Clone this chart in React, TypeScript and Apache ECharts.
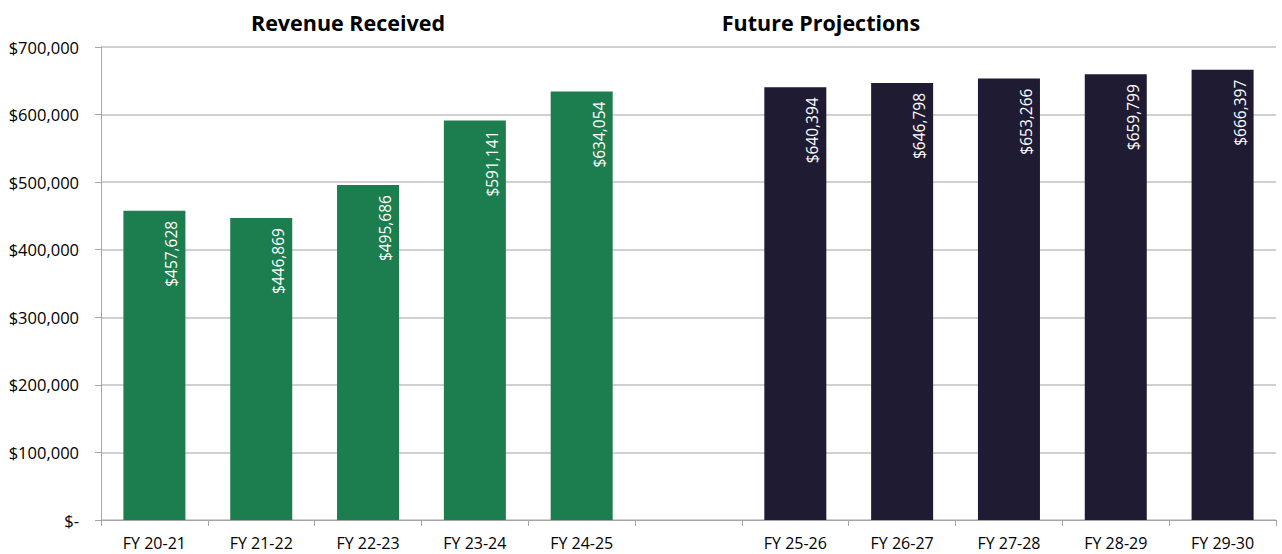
import React, { useEffect, useRef } from "react";
import * as echarts from "echarts";

const categories = ["FY 20-21", "FY 21-22", "FY 22-23", "FY 23-24", "FY 24-25", "", "FY 25-26", "FY 26-27", "FY 27-28", "FY 28-29", "FY 29-30"];
const received = [457628, 446869, 495686, 591141, 634054, null, null, null, null, null, null];
const projected = [null, null, null, null, null, null, 640394, 646798, 653266, 659799, 666397];
const yTicks = [0, 100000, 200000, 300000, 400000, 500000, 600000, 700000];
const titles = ["Revenue Received", "Future Projections"];

const FONT = "'Open Sans', 'Liberation Sans', sans-serif";
const fmt = (v: number) => "$" + v.toLocaleString("en-US");

export default function App() {
  const ref = useRef<HTMLDivElement>(null);
  useEffect(() => {
    const chart = echarts.init(ref.current!, null, { renderer: "svg" });
    const labelCfg = {
      show: true,
      position: "insideTop" as const,
      rotate: 90,
      align: "right" as const,
      verticalAlign: "middle" as const,
      distance: 10,
      offset: [0, 17],
      overflow: "none" as const,
      color: "#ffffff",
      fontFamily: FONT,
      fontSize: 15.5,
      formatter: (p: any) => fmt(p.value),
    };
    chart.setOption({
      animation: false,
      title: [
        { text: titles[0], left: 343, top: 6, textAlign: "center", textStyle: { fontFamily: FONT, fontSize: 21.5, fontWeight: "bold", color: "#000" } },
        { text: titles[1], left: 816, top: 6, textAlign: "center", textStyle: { fontFamily: FONT, fontSize: 21.5, fontWeight: "bold", color: "#000" } },
      ],
      grid: { left: 101, right: 6, top: 47, bottom: 34, containLabel: false },
      xAxis: {
        type: "category",
        data: categories,
        axisLine: { lineStyle: { color: "#a6a6a6" } },
        axisTick: { show: true, length: 6, lineStyle: { color: "#a6a6a6" } },
        axisLabel: { color: "#000", fontFamily: FONT, fontSize: 16, margin: 15 },
      },
      yAxis: {
        type: "value",
        min: yTicks[0],
        max: yTicks[yTicks.length - 1],
        interval: 100000,
        axisLine: { show: true, lineStyle: { color: "#a6a6a6" } },
        axisTick: { show: true, length: 6, inside: false, lineStyle: { color: "#a6a6a6" } },
        splitLine: { lineStyle: { color: "#c0c0c0", width: 1.5 } },
        axisLabel: {
          color: "#000",
          fontFamily: FONT,
          fontSize: 16.5,
          margin: 22,
          formatter: (v: number) => (v === 0 ? "$-" : fmt(v)),
        },
      },
      series: [
        {
          type: "bar",
          data: received,
          barWidth: 62,
          barGap: "-100%",
          itemStyle: { color: "#1c7d4e" },
          label: labelCfg,
        },
        {
          type: "bar",
          data: projected,
          barWidth: 62,
          barGap: "-100%",
          itemStyle: { color: "#1e1b33" },
          label: labelCfg,
        },
      ],
    });
    return () => chart.dispose();
  }, []);
  return <div ref={ref} style={{ width: 1282, height: 554, position: "absolute", left: 0, top: 0 }} />;
}
